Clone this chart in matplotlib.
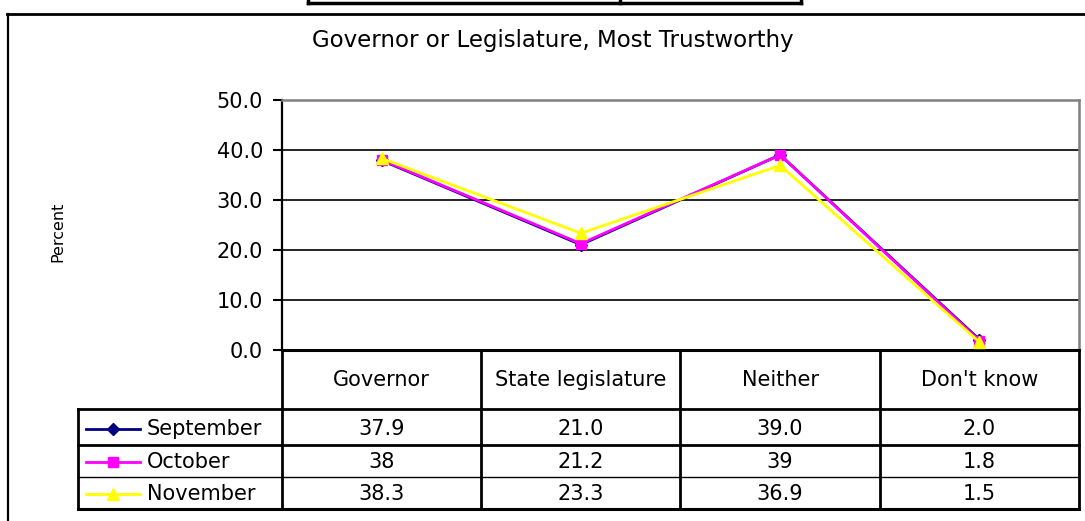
import matplotlib
matplotlib.use("Agg")

import matplotlib.pyplot as plt
import matplotlib.transforms as mtransforms

# chart data
title = "Governor or Legislature, Most Trustworthy"
y_label = "Percent"
categories = ["Governor", "State legislature", "Neither", "Don't know"]
months = ["September", "October", "November"]
september = [37.9, 21.0, 39.0, 2.0]
october = [38, 21.2, 39, 1.8]
november = [38.3, 23.3, 36.9, 1.5]
y_ticks = [0, 10, 20, 30, 40, 50]

# styles per series (colour, marker, marker size, table number format)
styles = [
    ("#000080", "D", 6.5, "{:.1f}"),
    ("#FF00FF", "s", 6.5, "{:g}"),
    ("#FFFF00", "^", 8.5, "{:.1f}"),
]

W, H = 1085, 521
FS = 15
plt.rcParams["font.family"] = ["DejaVu Sans"]

fig = plt.figure(figsize=(W / 100, H / 100), dpi=100)

# full-figure axes in pixel coordinates for frame, title and table
bg = fig.add_axes([0, 0, 1, 1])
bg.set_xlim(0, W)
bg.set_ylim(H, 0)
bg.set_autoscale_on(False)
bg.axis("off")

# plot area (pixels)
left, right, top, bottom = 282, 1079, 100, 349.5
ax = fig.add_axes([left / W, 1 - bottom / H, (right - left) / W, (bottom - top) / H])

xs = list(range(len(categories)))
for vals, name, (color, marker, ms, _) in zip([september, october, november], months, styles):
    ax.plot(xs, vals, color=color, lw=2, marker=marker, ms=ms,
            markeredgecolor=color, label=name, clip_on=False, zorder=3)

ax.set_xlim(-0.5, len(categories) - 0.5)
ax.set_ylim(y_ticks[0], y_ticks[-1])
ax.set_yticks(y_ticks)
ax.set_yticklabels([f"{v:.1f}" for v in y_ticks])
ax.set_xticks([])
ax.tick_params(axis="y", direction="out", length=6.5, width=1.5, pad=7,
               labelsize=FS, color="black")
ax.yaxis.grid(True, color="black", lw=1.2)
ax.set_axisbelow(True)
for side in ("top", "right"):
    ax.spines[side].set_color("#808080")
    ax.spines[side].set_linewidth(1.8)
ax.spines["left"].set_linewidth(1.6)
ax.spines["bottom"].set_linewidth(2.2)

# outer chart frame and the cropped box at the very top
bg.plot([7, W], [14, 14], color="black", lw=2)
bg.plot([7.5, 7.5], [14, H], color="black", lw=1.6)
bg.plot([308, 801], [3, 3], color="black", lw=2.5)
for x in (308, 620, 801):
    bg.plot([x, x], [0, 3], color="black", lw=2.5)

bg.text(553, 40, title, ha="center", va="center", fontsize=16.5)
bg.text(58, 232, y_label, ha="center", va="center", rotation=90, fontsize=11.5)

# data table under the plot, columns follow the plot's x scale
trans = mtransforms.blended_transform_factory(ax.transData, bg.transData)
header_bot, row_lines, table_bot = 409, [445, 477], 509
legend_left = 77.7
row_centers = [429, 462, 494]

for b in [i - 0.5 for i in range(len(categories) + 1)]:
    bg.plot([b, b], [bottom, table_bot], color="black", lw=2, transform=trans,
            solid_capstyle="projecting")
bg.plot([legend_left, legend_left], [header_bot, table_bot], color="black", lw=2)
bg.plot([legend_left, right], [header_bot, header_bot], color="black", lw=2)
bg.plot([legend_left, right], [row_lines[0], row_lines[0]], color="black", lw=2)
bg.plot([legend_left, right], [row_lines[1], row_lines[1]], color="black", lw=1)
bg.plot([legend_left, right], [table_bot, table_bot], color="black", lw=2.2)

for i, cat in enumerate(categories):
    bg.text(i, (bottom + header_bot) / 2 + 1, cat, ha="center", va="center",
            fontsize=FS, transform=trans)

for vals, name, yc, (color, marker, ms, fmt) in zip(
        [september, october, november], months, row_centers, styles):
    for i, v in enumerate(vals):
        bg.text(i, yc, fmt.format(v), ha="center", va="center",
                fontsize=FS, transform=trans)
    bg.plot([86, 140], [yc, yc], color=color, lw=2)
    bg.plot([113], [yc], marker=marker, ms=ms, color=color, markeredgecolor=color)
    bg.text(147, yc, name, ha="left", va="center", fontsize=FS)

fig.savefig("out.png", dpi=100)
